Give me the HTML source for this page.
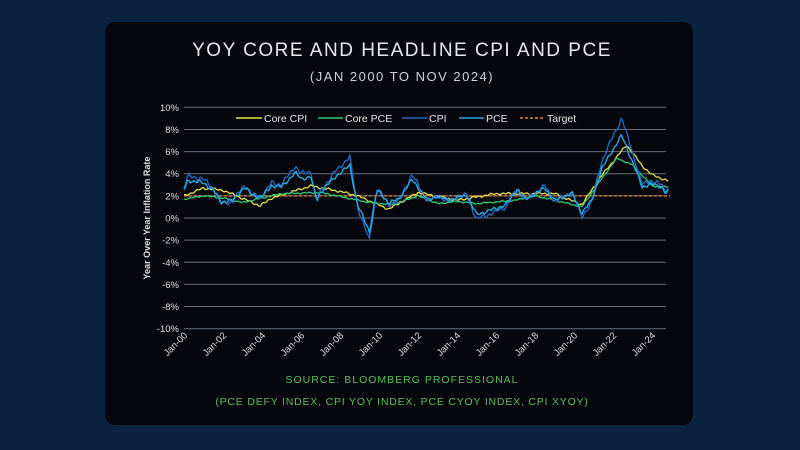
<!DOCTYPE html>
<html><head><meta charset="utf-8"><style>
html,body{margin:0;padding:0;background:#0b2340;width:800px;height:450px;overflow:hidden}
.card{position:absolute;left:105px;top:22px;width:588px;height:403px;background:#05070c;border-radius:10px}
svg{position:absolute;left:0;top:0}
text{font-family:"Liberation Sans",sans-serif}
</style></head><body>
<div class="card"></div>
<svg width="800" height="450" id="s">
<text x="402" y="56" fill="#e8e8ee" font-size="19" text-anchor="middle" letter-spacing="1.5">YOY CORE AND HEADLINE CPI AND PCE</text>
<text x="402" y="81" fill="#d0d0d8" font-size="13" text-anchor="middle" letter-spacing="1.5">(JAN 2000 TO NOV 2024)</text>
<g id="grid"></g>
<text transform="translate(150,218) rotate(-90)" fill="#e0e0e0" font-size="9" font-weight="bold" text-anchor="middle">Year Over Year Inflation Rate</text>
<g id="series"></g>
<g font-size="10.5" fill="#e8e8e8">
<line x1="236" y1="118" x2="262" y2="118" stroke="#e8e04a" stroke-width="1.5"/><text x="264" y="122">Core CPI</text>
<line x1="318" y1="118" x2="343" y2="118" stroke="#2ecc71" stroke-width="1.5"/><text x="345" y="122">Core PCE</text>
<line x1="402" y1="118" x2="427" y2="118" stroke="#2268c0" stroke-width="1.5"/><text x="429" y="122">CPI</text>
<line x1="459" y1="118" x2="484" y2="118" stroke="#29a8e0" stroke-width="1.5"/><text x="486" y="122">PCE</text>
<line x1="520" y1="118" x2="544" y2="118" stroke="#e8843a" stroke-width="1.5" stroke-dasharray="3,2"/><text x="547" y="122">Target</text>
</g>
<text x="402" y="383" fill="#5cbf5c" font-size="10.5" text-anchor="middle" letter-spacing="1">SOURCE: BLOOMBERG PROFESSIONAL</text>
<text x="402" y="405" fill="#5cbf5c" font-size="10.5" text-anchor="middle" letter-spacing="0.8">(PCE DEFY INDEX, CPI YOY INDEX, PCE CYOY INDEX, CPI XYOY)</text>
</svg>
<script>
var NS="http://www.w3.org/2000/svg";
function X(t){return 184+(t-2000)*19.5}
function Y(v){return 218-v*11.07}
var g=document.getElementById('grid'),h='';
for(var v=10;v>=-10;v-=2){var y=Y(v);h+='<line x1="184" x2="666" y1="'+y+'" y2="'+y+'" stroke="#6a6e78" stroke-width="1"/>';
h+='<text x="179" y="'+(y+3.5)+'" fill="#e0e0e0" font-size="9.5" text-anchor="end">'+v+'%</text>';}
for(var yr=0;yr<=24;yr+=2){var x=X(2000+yr)+4;var l='Jan-'+(yr<10?'0':'')+yr;
h+='<text transform="translate('+x+',336) rotate(-45)" fill="#e0e0e0" font-size="9.5" text-anchor="end">'+l+'</text>';}
g.innerHTML=h;
function interp(k,t){for(var i=0;i<k.length-1;i++){if(t>=k[i][0]&&t<=k[i+1][0]){var f=(t-k[i][0])/(k[i+1][0]-k[i][0]);return k[i][1]+f*(k[i+1][1]-k[i][1]);}}return k[k.length-1][1];}
function path(k,amp,seed){var d='';for(var m=0;m<=298;m++){var t=2000+m/12;var v=interp(k,t)+amp*(Math.sin(m*1.7+seed)*0.6+Math.sin(m*0.63+seed*2)*0.4);d+=(m?'L':'M')+X(t).toFixed(1)+','+Y(v).toFixed(1);}return d;}
var CPI=[[2000,2.7],[2000.2,3.8],[2001,3.5],[2001.5,2.7],[2001.9,1.3],[2002.5,1.5],[2003.1,3.0],[2003.5,2.1],[2004,1.9],[2004.5,3.2],[2005,3.0],[2005.7,4.7],[2006,4.0],[2006.5,4.2],[2006.8,1.5],[2007,2.4],[2007.8,4.3],[2008.5,5.5],[2008.9,1.0],[2009.5,-2.0],[2009.9,2.7],[2010.5,1.2],[2011,1.6],[2011.7,3.9],[2012.5,1.5],[2013,2.0],[2013.5,1.5],[2014.5,2.1],[2015,-0.1],[2015.9,0.5],[2016.5,1.0],[2017.1,2.7],[2017.5,1.6],[2018.5,2.9],[2019,1.5],[2019.9,2.3],[2020.4,0.1],[2020.9,1.4],[2021.4,5.0],[2021.9,7.0],[2022.45,9.0],[2022.9,6.5],[2023.5,3.0],[2023.9,3.4],[2024.5,3.0],[2024.7,2.4],[2024.9,2.7]];
var PCE=CPI.map(function(p){var v=p[1];return [p[0],v>2?2+(v-2)*0.78:2+(v-2)*0.8];});
var CC=[[2000,2.0],[2001,2.7],[2002,2.5],[2003.9,1.1],[2004.5,1.8],[2006.5,2.9],[2008,2.4],[2008.9,2.0],[2010.5,0.8],[2012,2.3],[2014,1.6],[2016,2.2],[2018,2.2],[2019,2.2],[2020.4,1.2],[2021.4,3.8],[2022.7,6.6],[2023.5,4.7],[2024,3.9],[2024.9,3.3]];
var CP=[[2000,1.7],[2001,2.0],[2002,1.8],[2003,1.4],[2005,2.2],[2007,2.3],[2009.5,1.4],[2010.7,1.2],[2012,2.0],[2013,1.3],[2014,1.5],[2015,1.3],[2017,1.6],[2018,2.0],[2019,1.6],[2020.4,1.0],[2021.4,3.5],[2022.2,5.4],[2023,4.8],[2024,2.9],[2024.9,2.8]];
var s='';
s+='<line x1="184" x2="670" y1="'+Y(2)+'" y2="'+Y(2)+'" stroke="#e8843a" stroke-width="1.3" stroke-dasharray="3,2"/>';
s+='<path d="'+path(CC,0.12,1)+'" fill="none" stroke="#e8e04a" stroke-width="1.3"/>';
s+='<path d="'+path(CP,0.08,2)+'" fill="none" stroke="#2ecc71" stroke-width="1.3"/>';
s+='<path d="'+path(CPI,0.25,3)+'" fill="none" stroke="#2268c0" stroke-width="1.4"/>';
s+='<path d="'+path(PCE,0.2,4)+'" fill="none" stroke="#29a8e0" stroke-width="1.4"/>';
document.getElementById('series').innerHTML=s;
</script>
</body></html>
